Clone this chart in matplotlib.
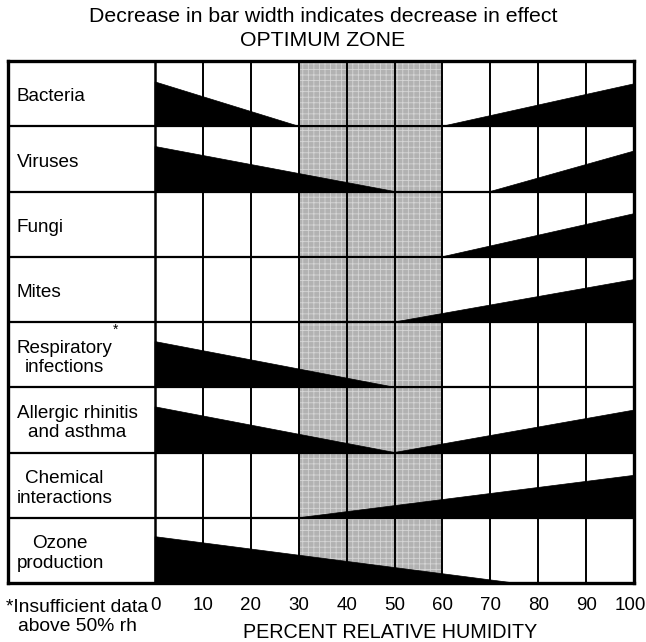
import matplotlib.pyplot as plt
from matplotlib.patches import Rectangle, Polygon

plt.rcParams['font.family'] = ['Liberation Sans', 'DejaVu Sans']
plt.rcParams['hatch.linewidth'] = 0.6

categories = ['Bacteria', 'Viruses', 'Fungi', 'Mites',
              'Respiratory\ninfections', 'Allergic rhinitis\nand asthma',
              'Chemical\ninteractions', 'Ozone\nproduction']

# each wedge: (humidity start, height at start, humidity end, height at end)
wedges = [
    [(0, 0.68, 30, 0.0), (60, 0.0, 100, 0.65)],
    [(0, 0.69, 50, 0.0), (70, 0.0, 100, 0.62)],
    [(60, 0.0, 100, 0.66)],
    [(50, 0.0, 100, 0.65)],
    [(0, 0.70, 50, 0.0)],
    [(0, 0.70, 50, 0.0), (50, 0.0, 100, 0.65)],
    [(30, 0.0, 100, 0.65)],
    [(0, 0.71, 75, 0.0)],
]
ticks = [0, 10, 20, 30, 40, 50, 60, 70, 80, 90, 100]
optimum = (30, 60)

fig = plt.figure(figsize=(6.46, 6.42), dpi=100)
ax = fig.add_axes([8/646, 1 - 583/642, 626/646, 522/642])
lab_w = 30.7
ax.set_xlim(-lab_w, 100)
ax.set_ylim(0, 8)

n = len(categories)

# optimum zone (stippled)
ax.add_patch(Rectangle((optimum[0], 0), optimum[1] - optimum[0], n,
                       facecolor='#b2b2b2', edgecolor='#d6d6d6', hatch='+++',
                       lw=0, zorder=1))

# vertical grid
for t in ticks[1:-1]:
    ax.plot([t, t], [0, n], color='black', lw=1.4, zorder=2)

# wedges
for i, row in enumerate(wedges):
    base = n - 1 - i
    for x0, h0, x1, h1 in row:
        pts = [(x0, base), (x0, base + h0), (x1, base + h1), (x1, base)]
        ax.add_patch(Polygon(pts, closed=True, facecolor='black',
                             edgecolor='black', lw=0.5, zorder=3))

# row separators
for k in range(1, n):
    ax.plot([-lab_w, 100], [k, k], color='black', lw=1.6, zorder=4)
ax.plot([0, 0], [0, n], color='black', lw=1.8, zorder=4)

# labels
for i, c in enumerate(categories):
    yc = n - 1 - i + 0.45
    ax.text(-lab_w + 1.8, yc, c, ha='left', va='center', multialignment='center',
            fontsize=13.6, linespacing=1.2, zorder=5)
ax.text(-8.3, n - 4 - 0.12, '*', fontsize=10, ha='center', va='center', zorder=5)

for s in ax.spines.values():
    s.set_linewidth(2.4)

ax.set_yticks([])
ax.set_xticks([])
xt = ax.get_xaxis_transform()
for t in ticks:
    dx = -0.7 if t == 100 else 0
    ax.text(t + dx, -22/522, str(t), transform=xt, ha='center', va='center',
            fontsize=13.5)

fig.text(0.5, 1 - 17/642, 'Decrease in bar width indicates decrease in effect',
         ha='center', va='center', fontsize=15.3)
fig.text(0.5, 1 - 40/642, 'OPTIMUM ZONE', ha='center', va='center', fontsize=15.3)
fig.text(390/646, 1 - 633/642, 'PERCENT RELATIVE HUMIDITY', ha='center',
         va='center', fontsize=14.2)
fig.text(77/646, 1 - 617/642, '*Insufficient data\nabove 50% rh', ha='center',
         va='center', multialignment='center', fontsize=13.9, linespacing=1.2)

fig.savefig('out.png', dpi=100)
